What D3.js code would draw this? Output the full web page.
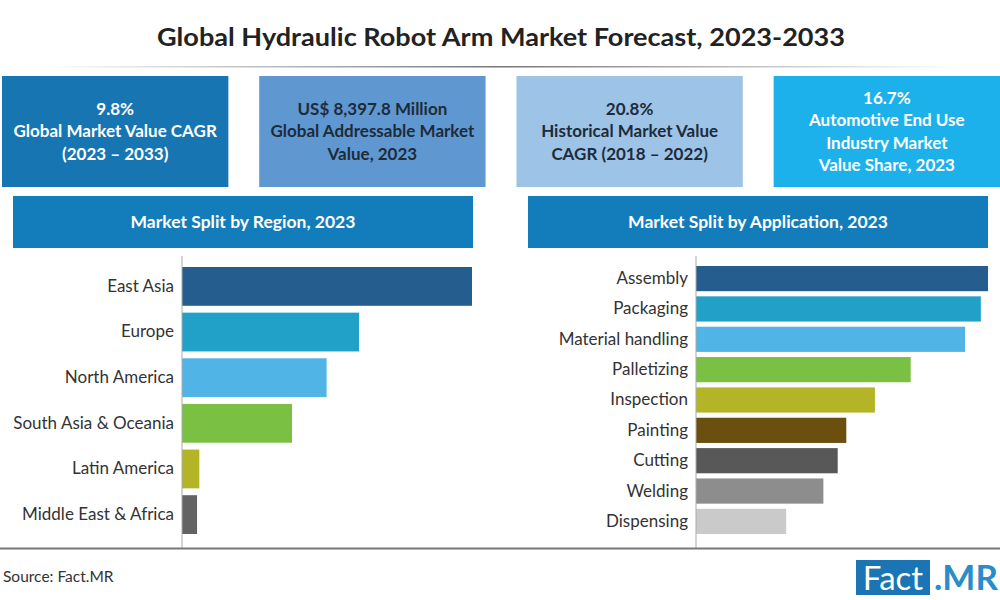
<!DOCTYPE html>
<html><head><meta charset="utf-8">
<script src="https://cdn.jsdelivr.net/npm/d3@7"></script>
<style>body{margin:0;background:#fff}svg{display:block}</style>
</head><body>
<svg id="chart" width="1000" height="600"></svg>
<script>
const title = "Global Hydraulic Robot Arm Market Forecast, 2023-2033";
const kpiLines = [
  ["9.8%", "Global Market Value CAGR", "(2023 – 2033)"],
  ["US$ 8,397.8 Million", "Global Addressable Market", "Value, 2023"],
  ["20.8%", "Historical Market Value", "CAGR (2018 – 2022)"],
  ["16.7%", "Automotive End Use", "Industry Market", "Value Share, 2023"]
];
const kpiColors = ["#1775b2", "#5f98d1", "#9dc3e6", "#1db1ec"];
const kpiText = ["#ffffff", "#1e2b3a", "#1e2b3a", "#ffffff"];

const regionTitle = "Market Split by Region, 2023";
const regions = ["East Asia", "Europe", "North America", "South Asia & Oceania", "Latin America", "Middle East & Africa"];
const regionValues = [38.5, 23.5, 19.2, 14.6, 2.3, 2.0];
const regionColors = ["#255d8e", "#21a0c8", "#50b5e6", "#79c043", "#b3b526", "#636363"];

const appTitle = "Market Split by Application, 2023";
const applications = ["Assembly", "Packaging", "Material handling", "Palletizing", "Inspection", "Painting", "Cutting", "Welding", "Dispensing"];
const appValues = [20.4, 19.9, 18.8, 15.0, 12.5, 10.5, 9.9, 8.9, 6.3];
const appColors = ["#255d8e", "#21a0c8", "#50b5e6", "#79c043", "#b3b526", "#6b4f0f", "#585858", "#8d8d8d", "#cacaca"];

const source = "Source: Fact.MR";

const svg = d3.select("#chart");
const FONT = "Lato, 'Open Sans', sans-serif";

// gradient for title rule
const defs = svg.append("defs");
const g1 = defs.append("linearGradient").attr("id", "rule");
g1.append("stop").attr("offset", "0%").attr("stop-color", "#fff");
g1.append("stop").attr("offset", "50%").attr("stop-color", "#777");
g1.append("stop").attr("offset", "100%").attr("stop-color", "#fff");

// Title
svg.append("text").attr("x", 501).attr("y", 46).attr("text-anchor", "middle")
  .attr("font-family", FONT).attr("font-weight", "bold")
  .attr("font-size", 24).attr("fill", "#222").attr("textLength", 688).attr("lengthAdjust", "spacingAndGlyphs")
  .text(title);
svg.append("rect").attr("x", 40).attr("y", 66).attr("width", 920).attr("height", 1.5).attr("fill", "url(#rule)");

// KPI boxes
const kpiX = d3.scaleBand().domain(d3.range(4)).range([2, 1000]).paddingInner(0.12);
kpiLines.forEach((lines, i) => {
  const x = kpiX(i), w = kpiX.bandwidth();
  svg.append("rect").attr("x", x).attr("y", 76).attr("width", w).attr("height", 111).attr("fill", kpiColors[i]);
  const lh = 22.5;
  const y0 = 131.5 - (lines.length - 1) * lh / 2;
  lines.forEach((t, j) => {
    svg.append("text").attr("x", x + w / 2).attr("y", y0 + j * lh).attr("dy", "0.35em")
      .attr("text-anchor", "middle").attr("font-family", FONT).attr("font-weight", "bold")
      .attr("font-size", 17).attr("fill", kpiText[i]).text(t);
  });
});

// Section headers
function header(x, w, t) {
  svg.append("rect").attr("x", x).attr("y", 196).attr("width", w).attr("height", 52).attr("fill", "#137cbb");
  svg.append("text").attr("x", x + w / 2).attr("y", 222).attr("dy", "0.35em").attr("text-anchor", "middle")
    .attr("font-family", FONT).attr("font-weight", "bold").attr("font-size", 17.5).attr("fill", "#fff").text(t);
}
header(13, 460, regionTitle);
header(528, 460, appTitle);

// Bar chart helper
function bars(cats, vals, cols, y0, y1, pad, x0, x1, fs) {
  const y = d3.scaleBand().domain(cats).range([y0, y1]).paddingInner(pad);
  const x = d3.scaleLinear().domain([0, d3.max(vals)]).range([x0, x1]);
  const g = svg.append("g");
  g.selectAll("rect").data(cats).join("rect")
    .attr("x", x(0)).attr("y", d => y(d)).attr("height", y.bandwidth())
    .attr("width", (d, i) => x(vals[i]) - x(0)).attr("fill", (d, i) => cols[i]);
  const ax = g.append("g").attr("transform", `translate(${x(0)},0)`)
    .call(d3.axisLeft(y).tickSize(0).tickPadding(8));
  ax.select(".domain").remove();
  ax.selectAll("text").attr("font-family", FONT).attr("font-size", fs).attr("fill", "#333");
  g.append("line").attr("x1", x(0)).attr("x2", x(0)).attr("y1", 256).attr("y2", 548)
    .attr("stroke", "#aaa").attr("stroke-width", 1);
}
bars(regions, regionValues, regionColors, 267, 534, 0.15, 182, 472, 17);
bars(applications, appValues, appColors, 266, 534, 0.17, 696, 988, 17);

// baseline
svg.append("line").attr("x1", 0).attr("x2", 1000).attr("y1", 548.5).attr("y2", 548.5)
  .attr("stroke", "#777").attr("stroke-width", 2);

// Source
svg.append("text").attr("x", 3).attr("y", 577).attr("dy", "0.35em").attr("font-family", FONT)
  .attr("font-size", 15.5).attr("fill", "#333").text(source);

// Logo
svg.append("rect").attr("x", 856).attr("y", 560).attr("width", 74).attr("height", 35).attr("fill", "#1b75b4");
svg.append("text").attr("x", 893).attr("y", 578).attr("dy", "0.35em").attr("text-anchor", "middle")
  .attr("font-family", FONT).attr("font-size", 33).attr("fill", "#fff").text("Fact");
svg.append("text").attr("x", 934).attr("y", 578).attr("dy", "0.35em")
  .attr("font-family", FONT).attr("font-weight", "bold").attr("font-size", 35).attr("fill", "#2a8cc8").text(".MR");
</script>
</body></html>
